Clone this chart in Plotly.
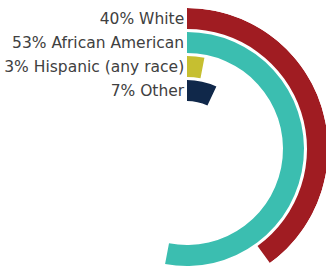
import plotly.graph_objects as go

categories = ["White", "African American", "Hispanic (any race)", "Other"]
percents = [40, 53, 3, 7]
colors = ["#A01C22", "#3BBEB0", "#C6BF30", "#10284A"]
ring_index = [3, 2, 1, 0]  # outermost first
tick_labels = [f"{p}% {c}" for p, c in zip(percents, categories)]

band = 0.875
inner0 = 2.0

fig = go.Figure()
for cat, p, col, ri in zip(categories, percents, colors, ring_index):
    fig.add_trace(go.Barpolar(
        r=[band], base=[inner0 + ri], theta=[p * 3.6 / 2], width=[p * 3.6],
        marker=dict(color=col, line=dict(width=0)), name=cat, showlegend=False,
        hoverinfo="skip"))

W, H = 330, 292
cx, cy, R = 187, 149, 141
fig.update_layout(
    width=W, height=H, margin=dict(l=0, r=0, t=0, b=0),
    paper_bgcolor="white", plot_bgcolor="white",
    polar=dict(
        domain=dict(x=[(cx - R) / W, (cx + R) / W], y=[(H - cy - R) / H, (H - cy + R) / H]),
        bgcolor="white",
        angularaxis=dict(rotation=90, direction="clockwise", showgrid=False, showline=False,
                         showticklabels=False, ticks=""),
        radialaxis=dict(range=[0, inner0 + 3 + band], angle=90, tickangle=90,
                        tickvals=[inner0 + ri + band / 2 for ri in ring_index],
                        ticktext=tick_labels, showgrid=False, showline=False, ticks="",
                        side="counterclockwise",
                        tickfont=dict(family="DejaVu Sans", size=15.5, color="#404040")),
    ),
)

fig.write_html("out.html", config={"displayModeBar": False},
               post_script="document.body.style.margin='0';document.body.style.overflow='hidden';")
